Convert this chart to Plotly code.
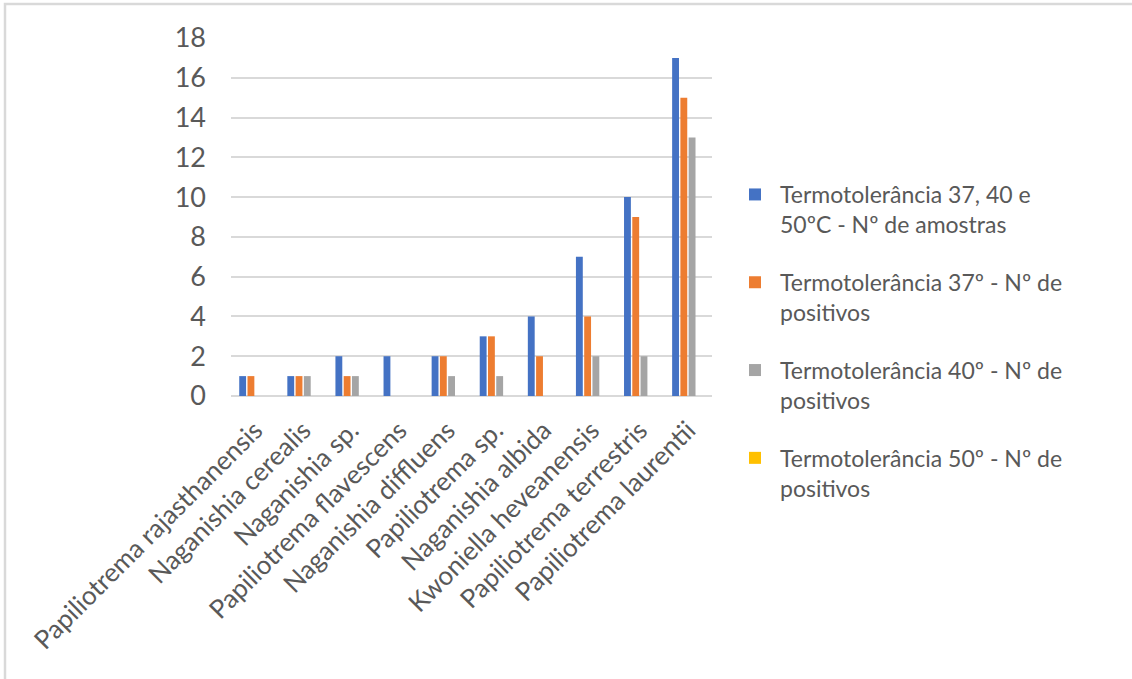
import plotly.graph_objects as go

# Yeast species tested for thermotolerance
species = [
    "Papiliotrema rajasthanensis",
    "Naganishia cerealis",
    "Naganishia sp.",
    "Papiliotrema flavescens",
    "Naganishia diffluens",
    "Papiliotrema sp.",
    "Naganishia albida",
    "Kwoniella heveanensis",
    "Papiliotrema terrestris",
    "Papiliotrema laurentii",
]

n_amostras = [1, 1, 2, 2, 2, 3, 4, 7, 10, 17]
pos_37 = [1, 1, 1, 0, 2, 3, 2, 4, 9, 15]
pos_40 = [0, 1, 1, 0, 1, 1, 0, 2, 2, 13]
pos_50 = [0, 0, 0, 0, 0, 0, 0, 0, 0, 0]

series_names = [
    "Termotolerância 37, 40 e<br>50ºC - Nº de amostras",
    "Termotolerância 37º - Nº de<br>positivos",
    "Termotolerância 40º - Nº de<br>positivos",
    "Termotolerância 50º - Nº de<br>positivos",
]
series_values = [n_amostras, pos_37, pos_40, pos_50]
series_colors = ["#4472C4", "#ED7D31", "#A5A5A5", "#FFC000"]

y_ticks = [0, 2, 4, 6, 8, 10, 12, 14, 16, 18]

TEXT = "#595959"
GRID = "#D9D9D9"
FONT = "Lato"

fig = go.Figure()
for i, (name, vals, col) in enumerate(zip(series_names, series_values, series_colors)):
    fig.add_trace(go.Bar(
        x=species, y=vals, name=name, marker_color=col,
        marker_line_width=0, legendgroup=f"g{i}",
    ))

W, H = 1132, 679
L, R, T, B = 231, 420, 38, 283
pw, ph = W - L - R, H - T - B

fig.update_layout(
    width=W, height=H,
    margin=dict(l=L, r=R, t=T, b=B, pad=0),
    paper_bgcolor="white", plot_bgcolor="white",
    barmode="group", bargap=0.313, bargroupgap=0.17,
    font=dict(family=FONT, color=TEXT, size=22),
    showlegend=True,
    legend=dict(
        x=(730 - L) / pw, xanchor="left",
        y=1 - (173 - T) / ph, yanchor="top",
        font=dict(family=FONT, color=TEXT, size=23),
        tracegroupgap=25, valign="top", itemwidth=40,
        bgcolor="rgba(0,0,0,0)",
    ),
    shapes=[dict(
        type="rect", xref="paper", yref="paper",
        x0=(5 - L) / pw, x1=(1200 - L) / pw,
        y0=-(760 - (H - B)) / ph, y1=1 + (T - 4) / ph,
        line=dict(color=GRID, width=2.5), fillcolor="rgba(0,0,0,0)", layer="above",
    )],
)

fig.update_xaxes(
    tickangle=-45, tickfont=dict(family=FONT, color=TEXT, size=26),
    showgrid=False, showline=False, ticks="", ticklabelstandoff=13,
)
fig.update_yaxes(
    range=[0, 18], tickvals=y_ticks,
    tickfont=dict(family=FONT, color=TEXT, size=27),
    showgrid=True, gridcolor=GRID, gridwidth=1.5,
    zeroline=True, zerolinecolor=GRID, zerolinewidth=1.5,
    showline=False, ticks="", ticklabelstandoff=24,
)

fig.write_html("out.html")
